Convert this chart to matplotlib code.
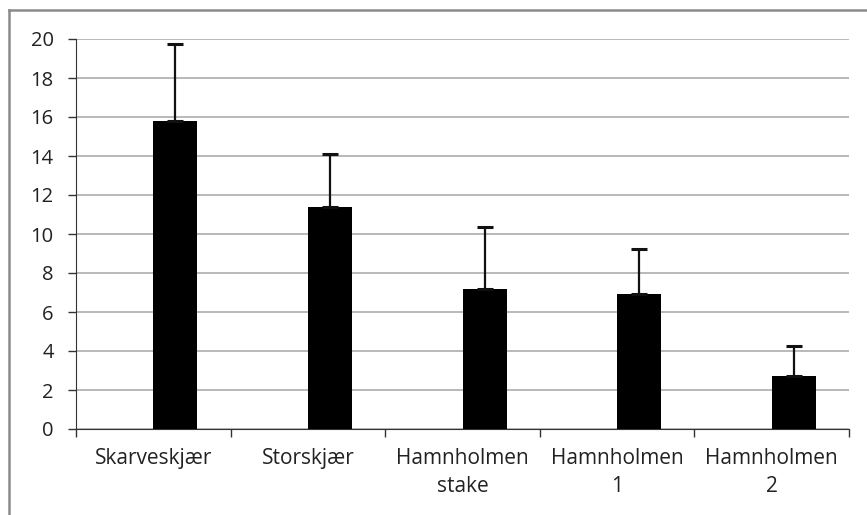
import matplotlib
matplotlib.use("Agg")
import matplotlib.pyplot as plt
import numpy as np
from matplotlib.lines import Line2D

categories = ["Skarveskjær", "Storskjær", "Hamnholmen\nstake", "Hamnholmen\n1", "Hamnholmen\n2"]
values = [15.8, 11.4, 7.2, 6.9, 2.7]
errors = [3.93, 2.7, 3.14, 2.32, 1.58]
yticks = [0, 2, 4, 6, 8, 10, 12, 14, 16, 18, 20]

plt.rcParams['font.family'] = ['Open Sans', 'DejaVu Sans']

fig = plt.figure(figsize=(8.67, 5.15), dpi=100)
ax = fig.add_axes([76/867, 1-429/515, (849-76)/867, (429-39)/515])

x = np.arange(len(categories))
w = 1/3.5
ax.bar(x + w/2, values, width=w, color='black', zorder=3)
ax.errorbar(x + w/2, values, yerr=[np.zeros(len(values)), errors], fmt='none',
            ecolor='#111111', elinewidth=1.6, capsize=6, capthick=2.2, zorder=4)

ax.set_xlim(-0.5, len(categories) - 0.5)
ax.set_ylim(0, 20)
ax.set_yticks(yticks)
ax.set_yticklabels([str(v) for v in yticks], fontsize=14.5, color='#222222')
ax.yaxis.grid(True, color='#a6a6a6', linewidth=1.1, zorder=0)
ax.set_axisbelow(True)

ax.set_xticks(np.arange(-0.5, len(categories)), labels=[''] * (len(categories) + 1))
ax.set_xticks(x, labels=categories, minor=True)
ax.tick_params(axis='x', which='minor', length=0, labelsize=15, labelcolor='#222222', pad=14)
ax.tick_params(axis='x', which='major', length=6, width=1, color='#333333', direction='out')
ax.tick_params(axis='y', length=6, width=1, color='#333333', direction='out', pad=10)
for lbl in ax.get_xticklabels(minor=True):
    lbl.set_linespacing(1.4)

for s in ['top', 'right']:
    ax.spines[s].set_visible(False)
ax.spines['left'].set_color('#333333')
ax.spines['bottom'].set_color('#333333')

# outer frame (gray border, top and left visible)
fig.add_artist(Line2D([9/867, 9/867], [0, 1-10/515], transform=fig.transFigure, color='#8a8a8a', linewidth=1.8))
fig.add_artist(Line2D([9/867, 1], [1-10/515, 1-10/515], transform=fig.transFigure, color='#8a8a8a', linewidth=1.8))

fig.savefig("out.png", dpi=100)
